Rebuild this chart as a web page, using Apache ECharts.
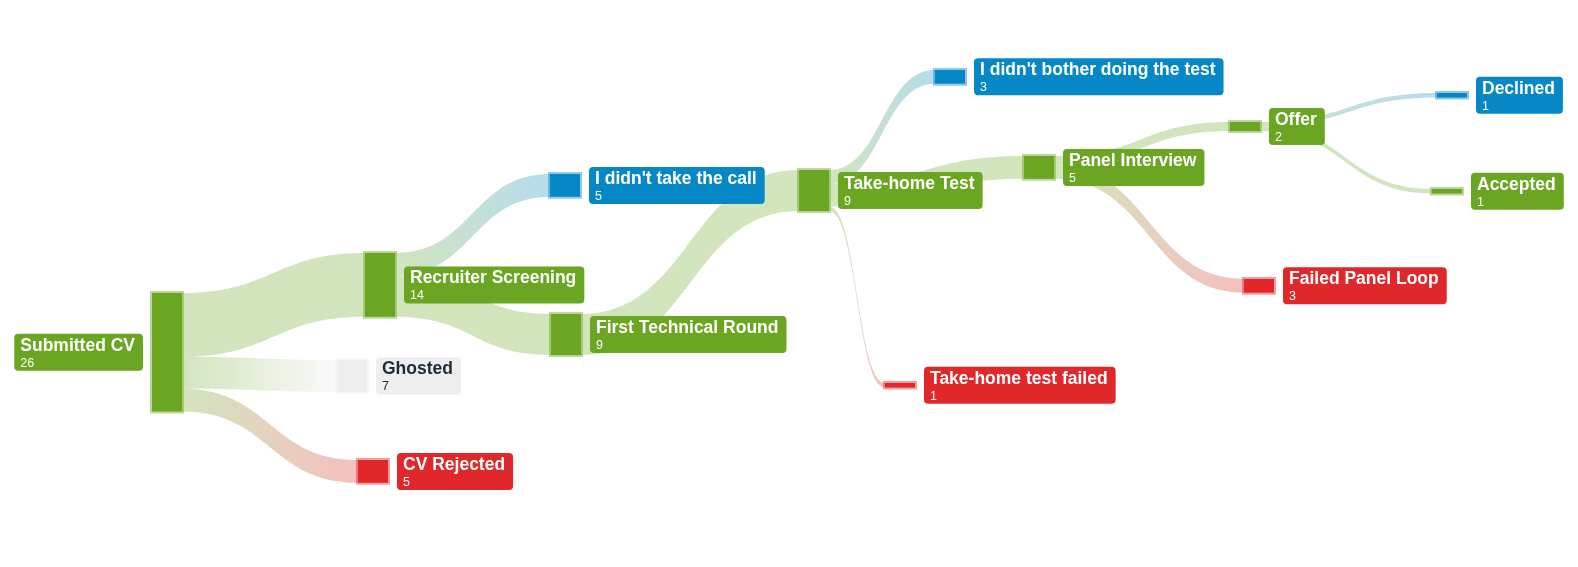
<!DOCTYPE html>
<html>
<head>
<meta charset="utf-8">
<title>Job hunt sankey</title>
<script src="https://cdn.jsdelivr.net/npm/echarts@6/dist/echarts.min.js"></script>
<style>
  html, body { margin: 0; padding: 0; background: #fff; }
  #main { width: 1578px; height: 567px; }
</style>
</head>
<body>
<div id="main"></div>
<script>
// stages of the funnel
var nodeNames = [
  'Submitted CV', 'Recruiter Screening', 'Ghosted', 'CV Rejected',
  "I didn't take the call", 'First Technical Round', 'Take-home Test',
  "I didn't bother doing the test", 'Panel Interview', 'Take-home test failed',
  'Offer', 'Failed Panel Loop', 'Declined', 'Accepted'
];
var nodeKinds = [
  'go', 'go', 'ghost', 'fail',
  'drop', 'go', 'go',
  'drop', 'go', 'fail',
  'go', 'fail', 'drop', 'go'
];

// flows between stages
var linkSources = [
  'Submitted CV', 'Submitted CV', 'Submitted CV',
  'Recruiter Screening', 'Recruiter Screening',
  'First Technical Round',
  'Take-home Test', 'Take-home Test', 'Take-home Test',
  'Panel Interview', 'Panel Interview',
  'Offer', 'Offer'
];
var linkTargets = [
  'Recruiter Screening', 'Ghosted', 'CV Rejected',
  "I didn't take the call", 'First Technical Round',
  'Take-home Test',
  "I didn't bother doing the test", 'Panel Interview', 'Take-home test failed',
  'Offer', 'Failed Panel Loop',
  'Declined', 'Accepted'
];
var linkValues = [14, 7, 5, 5, 9, 9, 3, 5, 1, 2, 3, 1, 1];

// hand placed node corners (px), same order as nodeNames
var nodeLeft = [152, 365, 337, 358, 550, 551, 799, 935, 1024, 885, 1230, 1244, 1437, 1432];
var nodeTop  = [293, 253, 360, 460, 174, 314, 170, 70, 156, 383, 122, 279, 93, 189];

var W = 1578, H = 567;

var kindStyle = {
  go:    { color: '#6aa621', border: 'rgba(106,166,33,0.45)', text: '#fff' },
  drop:  { color: '#0788c6', border: 'rgba(7,136,198,0.45)', text: '#fff' },
  fail:  { color: '#e0282a', border: 'rgba(224,40,42,0.45)', text: '#fff' },
  ghost: { color: '#eeeeee', border: 'rgba(238,238,238,0.5)', text: '#1e2a3b' }
};

var FONT = '"Liberation Sans", Arial, sans-serif';

var nodes = nodeNames.map(function (name, i) {
  var st = kindStyle[nodeKinds[i]];
  var item = {
    name: name,
    localX: nodeLeft[i] / W,
    localY: nodeTop[i] / H,
    itemStyle: { color: st.color, borderColor: st.border, borderWidth: 4 },
    label: {
      backgroundColor: st.color,
      rich: {
        name: { color: st.text },
        value: { color: st.text }
      }
    }
  };
  if (i === 0) item.label.position = 'left';
  return item;
});

var links = linkValues.map(function (v, i) {
  return { source: linkSources[i], target: linkTargets[i], value: v };
});

var chart = echarts.init(document.getElementById('main'));
chart.setOption({
  animation: false,
  series: [{
    type: 'sankey',
    left: 0, top: 0, right: 0, bottom: 0,
    nodeWidth: 30,
    nodeGap: 224.3,
    nodeAlign: 'left',
    layoutIterations: 0,
    data: nodes,
    links: links,
    lineStyle: { color: 'gradient', opacity: 0.3, curveness: 0.5 },
    emphasis: { disabled: true },
    label: {
      show: true,
      position: 'right',
      distance: 7,
      borderRadius: 4,
      padding: [2, 8, 0, 6],
      fontFamily: FONT,
      formatter: '{name|{b}}\n{value|{c}}',
      rich: {
        name: { fontSize: 17.5, fontWeight: 'bold', lineHeight: 20, align: 'left', fontFamily: FONT },
        value: { fontSize: 12.5, lineHeight: 15, align: 'left', fontFamily: FONT }
      }
    }
  }]
});
</script>
</body>
</html>
